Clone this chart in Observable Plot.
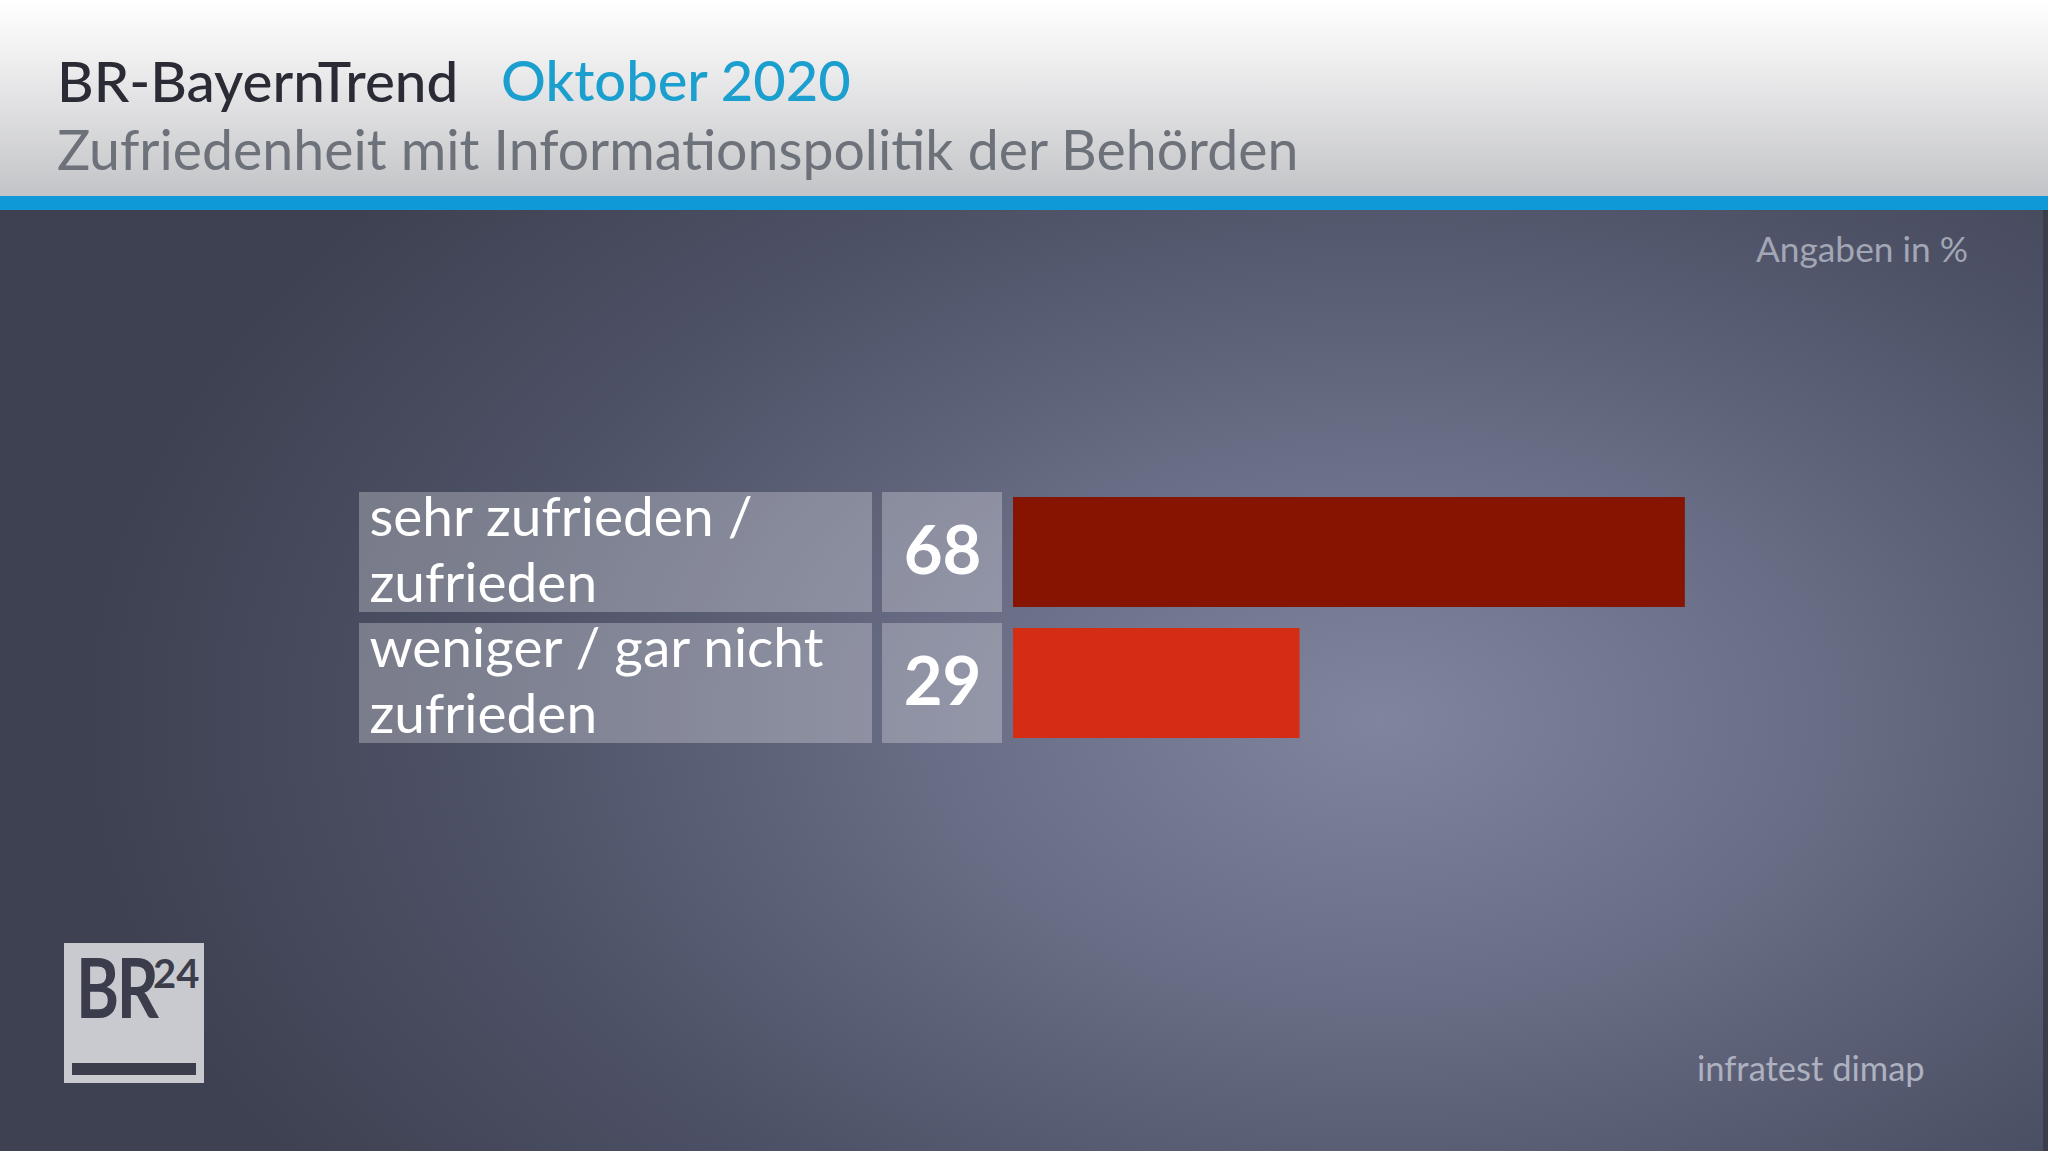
<!DOCTYPE html>
<html>
<head>
<meta charset="utf-8">
<script src="https://cdn.jsdelivr.net/npm/d3@7"></script>
<script src="https://cdn.jsdelivr.net/npm/@observablehq/plot@0.6"></script>
<style>
  html, body { margin: 0; padding: 0; }
  #stage { position: relative; width: 2048px; height: 1151px; overflow: hidden;
    font-family: Lato, "Open Sans", sans-serif;
    background: radial-gradient(1300px 820px at 1380px 720px, #80849c 0%, #686c84 35%, #4d5166 70%, #3e4151 100%); }
  #header { position: absolute; left: 0; top: 0; width: 2048px; height: 196px;
    background: linear-gradient(#ffffff 0%, #efeff0 30%, #c3c4c7 100%); }
  #blue { position: absolute; left: 0; top: 196px; width: 2048px; height: 14px; background: #0f9ad7; }
  .t { position: absolute; line-height: 1; white-space: nowrap; }
  .layer { position: absolute; left: 0; top: 0; }
  #edge { position: absolute; right: 0; top: 210px; width: 5px; height: 941px; background: #3b3d4b; }
</style>
</head>
<body>
<div id="stage">
  <div id="header"></div>
  <div id="blue"></div>
  <div class="t" style="left:57px; top:52px; font-size:56.5px; color:#2a2b35; font-weight:500;">BR-BayernTrend</div>
  <div class="t" style="left:501px; top:52px; font-size:56px; color:#1b9fcf; font-weight:500;">Oktober 2020</div>
  <div class="t" style="left:57px; top:121px; font-size:55.4px; color:#6c717a;">Zufriedenheit mit Informationspolitik der Behörden</div>
  <div class="t" style="right:80px; top:231px; font-size:35.3px; color:#a3a6b5;">Angaben in %</div>
  <div class="t" style="left:1697px; top:1051px; font-size:34.5px; color:#aeb1bf;">infratest dimap</div>
  <div id="logo" style="position:absolute; left:64px; top:943px; width:140px; height:140px; background:#c9cacf;">
    <div class="t" style="left:12px; top:2px; font-size:82px; font-weight:700; color:#3b3d4c; letter-spacing:-3px; transform:scaleX(0.8); transform-origin:left top;">BR</div>
    <div class="t" style="left:89px; top:10px; font-size:40px; font-weight:700; color:#3b3d4c;">24</div>
    <div style="position:absolute; left:8px; top:120px; width:124px; height:12px; background:#3b3d4c;"></div>
  </div>
  <div id="edge"></div>
</div>
<script>
const categories = ["sehr zufrieden / zufrieden", "weniger / gar nicht zufrieden"];
const labelLines = ["sehr zufrieden /\nzufrieden", "weniger / gar nicht\nzufrieden"];
const values = [68, 29];
const barColors = ["#861400", "#d42d14"];

const data = categories.map((c, i) => ({category: c, label: labelLines[i], value: values[i]}));

const yScale = {type: "band", domain: categories, range: [492, 743], paddingInner: 0.084, paddingOuter: 0, axis: null};
const common = {width: 2048, height: 1151, margin: 0, style: {background: "transparent", overflow: "visible"}};

const labelPlot = Plot.plot({
  ...common,
  marginLeft: 369,
  x: {type: "band", domain: ["label"], range: [359, 872], padding: 0, axis: null},
  y: yScale,
  marks: [
    Plot.cell(data, {x: () => "label", y: "category", fill: "white", fillOpacity: 0.27}),
    Plot.text(data, {y: "category", text: "label", frameAnchor: "left", textAnchor: "start", dy: -5,
      fill: "white", fontSize: 55, lineHeight: 1.21, fontFamily: "Lato, sans-serif"})
  ]
});

const valuePlot = Plot.plot({
  ...common,
  x: {type: "band", domain: ["value"], range: [882, 1002], padding: 0, axis: null},
  y: yScale,
  marks: [
    Plot.cell(data, {x: () => "value", y: "category", fill: "white", fillOpacity: 0.27}),
    Plot.text(data, {x: () => "value", y: "category", text: d => String(d.value),
      fill: "white", fontSize: 67, fontWeight: 700, fontFamily: "Lato, sans-serif"})
  ]
});

const barPlot = Plot.plot({
  ...common,
  x: {type: "linear", domain: [0, 100], range: [1013, 2001], axis: null},
  y: yScale,
  color: {domain: categories, range: barColors},
  marks: [
    Plot.barX(data, {x: "value", y: "category", fill: "category", insetTop: 5, insetBottom: 5})
  ]
});

for (const p of [labelPlot, valuePlot, barPlot]) {
  p.classList.add("layer");
  document.getElementById("stage").appendChild(p);
}
</script>
</body>
</html>
